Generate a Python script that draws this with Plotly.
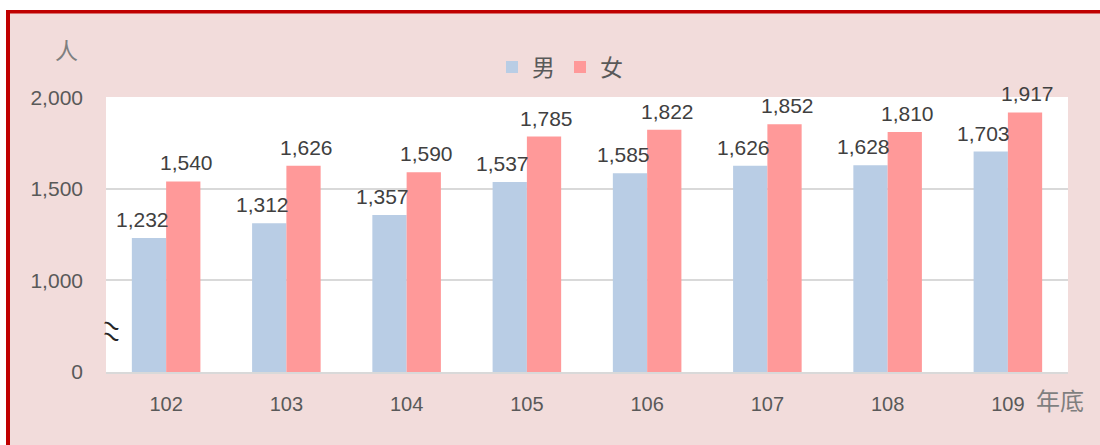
import plotly.graph_objects as go

years = ["102", "103", "104", "105", "106", "107", "108", "109"]
male = [1232, 1312, 1357, 1537, 1585, 1626, 1628, 1703]
female = [1540, 1626, 1590, 1785, 1822, 1852, 1810, 1917]
ytick_vals = [500, 1000, 1500, 2000]
ytick_text = ["0", "1,000", "1,500", "2,000"]

W, H = 1100, 445
ML, MR, MT, MB = 106, 32, 97, 73
PW, PH = W - ML - MR, H - MT - MB

def px(x):
    return (x - ML) / PW

def py(y):
    return (H - MB - y) / PH

FONT = "Liberation Sans, Arial, Noto Sans CJK TC, sans-serif"
MALE_C = "#B9CDE5"
FEMALE_C = "#FF9999"

fig = go.Figure()
fig.add_trace(go.Bar(x=years, y=male, name="男", marker_color=MALE_C, marker_line_width=0))
fig.add_trace(go.Bar(x=years, y=female, name="女", marker_color=FEMALE_C, marker_line_width=0))

annotations = []
for i, (m, f) in enumerate(zip(male, female)):
    annotations.append(dict(x=i, y=m, text=f"{m:,}", showarrow=False, xshift=-24, yshift=5,
                            yanchor="bottom", xanchor="center",
                            font=dict(size=21, color="#404040", family=FONT)))
    annotations.append(dict(x=i, y=f, text=f"{f:,}", showarrow=False, xshift=20, yshift=5,
                            yanchor="bottom", xanchor="center",
                            font=dict(size=21, color="#404040", family=FONT)))

annotations.append(dict(xref="paper", yref="paper", x=px(66), y=py(51), text="人", showarrow=False,
                        xanchor="center", yanchor="middle",
                        font=dict(size=23, color="#7F7F7F", family=FONT)))
annotations.append(dict(xref="paper", yref="paper", x=px(1060), y=py(401), text="年底", showarrow=False,
                        xanchor="center", yanchor="middle",
                        font=dict(size=24, color="#7F7F7F", family=FONT)))
# axis-break mark: two slanted tildes
for yy in (325, 336):
    annotations.append(dict(xref="paper", yref="paper", x=px(112), y=py(yy), text="~", showarrow=False,
                            xanchor="center", yanchor="middle",
                            textangle=28, font=dict(size=30, color="#262626", family=FONT)))

shapes = [
    dict(type="rect", xref="paper", yref="paper", x0=px(0), x1=px(1100), y0=py(0), y1=py(10),
         fillcolor="white", line_width=0, layer="below"),
    dict(type="rect", xref="paper", yref="paper", x0=px(0), x1=px(6), y0=py(0), y1=py(445),
         fillcolor="white", line_width=0, layer="below"),
    dict(type="rect", xref="paper", yref="paper", x0=px(6), x1=px(1100), y0=py(10), y1=py(13.5),
         fillcolor="#C00000", line_width=0, layer="below"),
    dict(type="rect", xref="paper", yref="paper", x0=px(6), x1=px(10), y0=py(10), y1=py(445),
         fillcolor="#C00000", line_width=0, layer="below"),
]

fig.update_layout(
    width=W, height=H,
    margin=dict(l=ML, r=MR, t=MT, b=MB, pad=0),
    paper_bgcolor="#F2DCDB",
    plot_bgcolor="white",
    barmode="group",
    bargap=0.43,
    bargroupgap=0,
    font=dict(family=FONT, size=20, color="#595959"),
    legend=dict(orientation="h", x=px(560), xanchor="center", y=py(67), yanchor="middle",
                font=dict(size=23, color="#595959", family=FONT), bgcolor="rgba(0,0,0,0)",
                itemwidth=30),
    annotations=annotations,
    shapes=shapes,
    xaxis=dict(type="category", range=[-0.5, len(years) - 0.5], showgrid=False, showline=True,
               linecolor="#D9D9D9", linewidth=2,
               ticks="", tickfont=dict(size=20, color="#595959"), ticklabelstandoff=13),
    yaxis=dict(range=[500, 2001], tickvals=ytick_vals, ticktext=ytick_text,
               showgrid=True, gridcolor="#D9D9D9", gridwidth=2, zeroline=False,
               showline=False, ticks="", tickfont=dict(size=21, color="#595959"),
               ticklabelstandoff=22),
)

fig.write_html("out.html", config={"displayModeBar": False},
               post_script="document.body.style.margin='0';document.body.style.overflow='hidden';")
